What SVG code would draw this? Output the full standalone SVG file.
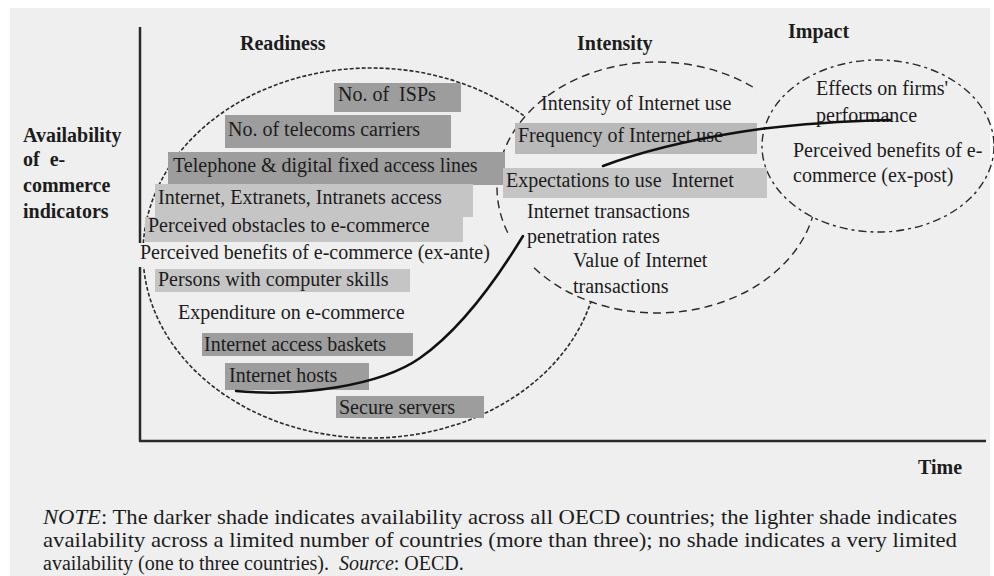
<svg xmlns="http://www.w3.org/2000/svg" width="994" height="576" viewBox="0 0 994 576">
<style>
  text { font-family: "Liberation Serif", "Times New Roman", serif; font-size: 20px; fill: #1c1c1c; }
  .hd { font-weight: bold; }
  .pre { white-space: pre; }
  .dark { fill: #9d9d9d; }
  .light { fill: #c5c5c5; }
  .bg { fill: #efefef; }
  .axis { stroke: #2a2a2a; stroke-width: 2.5; fill: none; }
  .reg { fill: none; stroke: #2a2a2a; }
  .curve { fill: none; stroke: #111; stroke-width: 2.5; stroke-linecap: round; }
  .note { font-size: 21px; }
</style>
<defs>
  <mask id="mR" maskUnits="userSpaceOnUse" x="0" y="0" width="994" height="576">
    <rect x="0" y="0" width="994" height="576" fill="#fff"/>
    <ellipse cx="657" cy="187.5" rx="160" ry="125.5" fill="#000"/>
  </mask>
  <mask id="mI" maskUnits="userSpaceOnUse" x="0" y="0" width="994" height="576">
    <rect x="0" y="0" width="994" height="576" fill="#fff"/>
    <ellipse cx="878" cy="146" rx="116" ry="86" fill="#000"/>
    <rect x="503" y="236" width="30" height="32" fill="#000"/>
    <rect x="757" y="80" width="22" height="26" fill="#000"/>
  </mask>
</defs>

<rect x="0" y="0" width="994" height="576" fill="#fff"/>
<rect x="10" y="8" width="980" height="568" class="bg"/>

<g id="axes">
  <line x1="140" y1="27" x2="140" y2="441" class="axis"/>
  <line x1="139" y1="441" x2="986" y2="441" class="axis"/>
  <text x="23" y="142" class="hd">Availability</text>
  <text x="23" y="166" class="hd pre">of  e-</text>
  <text x="23" y="192" class="hd">commerce</text>
  <text x="23" y="218" class="hd">indicators</text>
  <text x="918" y="474" class="hd">Time</text>
</g>

<g id="readiness">
  <ellipse cx="371" cy="253" rx="228" ry="185" class="reg" stroke-width="1.6" stroke-dasharray="4 2" mask="url(#mR)"/>
  <text x="240" y="50" class="hd">Readiness</text>
</g>
<g id="intensity">
  <ellipse cx="657" cy="187.5" rx="160" ry="125.5" class="reg" stroke-width="1.4" stroke-dasharray="8 5" mask="url(#mI)"/>
  <text x="577" y="50" class="hd">Intensity</text>
</g>
<g id="impact">
  <ellipse cx="878" cy="146" rx="116" ry="86" class="reg" stroke-width="1.4" stroke-dasharray="8 4 3 4"/>
  <text x="788" y="38" class="hd">Impact</text>
</g>

<g id="n-isps"><rect x="334" y="83" width="127" height="29" class="dark"/><text x="338" y="101" class="pre">No. of  ISPs</text></g>
<g id="n-telecoms"><rect x="225" y="115" width="226" height="33" class="dark"/><text x="228" y="136">No. of telecoms carriers</text></g>
<g id="n-telephone"><rect x="168" y="152" width="337" height="33" class="dark"/><text x="173" y="172">Telephone &amp; digital fixed access lines</text></g>
<g id="n-access"><rect x="155" y="184" width="318" height="33" class="light"/><text x="158" y="204">Internet, Extranets, Intranets access</text></g>
<g id="n-obstacles"><rect x="145" y="217" width="318" height="25" class="light"/><text x="148" y="232">Perceived obstacles to e-commerce</text></g>
<g id="n-benefits-ante"><rect x="138" y="243" width="362" height="24" class="bg"/><text x="140" y="259">Perceived benefits of e-commerce (ex-ante)</text></g>
<g id="n-skills"><rect x="155" y="269" width="255" height="23" class="light"/><text x="158" y="286">Persons with computer skills</text></g>
<g id="n-expenditure"><text x="178" y="319">Expenditure on e-commerce</text></g>
<g id="n-baskets"><rect x="202" y="333" width="211" height="23" class="dark"/><text x="204" y="351">Internet access baskets</text></g>
<g id="n-hosts"><rect x="225" y="363" width="144" height="27" class="dark"/><text x="229" y="382">Internet hosts</text></g>
<g id="n-servers"><rect x="336" y="396" width="148" height="22" class="dark"/><text x="339" y="414">Secure servers</text></g>

<g id="n-intensity-use"><text x="541" y="110">Intensity of Internet use</text></g>
<g id="n-frequency"><rect x="515" y="123" width="242" height="31" class="light" style="fill:#b9b9b9"/><text x="518" y="142">Frequency of Internet use</text></g>
<g id="n-expectations"><rect x="503" y="168" width="264" height="30" class="light"/><text x="506" y="187" class="pre">Expectations to use  Internet</text></g>
<g id="n-penetration"><text x="527" y="218">Internet transactions</text><text x="527" y="243">penetration rates</text></g>
<g id="n-value"><text x="573" y="267">Value of Internet</text><text x="573" y="293">transactions</text></g>

<g id="n-effects"><text x="816" y="95">Effects on firms'</text><text x="816" y="122">performance</text></g>
<g id="n-benefits-post"><text x="793" y="157">Perceived benefits of e-</text><text x="793" y="182">commerce (ex-post)</text></g>

<g id="connectors">
  <path class="curve" d="M236,391 C300,397 380,386 420,358 C460,330 495,282 523,236"/>
  <path class="curve" d="M603,166 C640,152 690,140 740,132 S850,121 890,120"/>
</g>

<g id="note">
  <text x="43" y="524" class="note" textLength="914" lengthAdjust="spacingAndGlyphs"><tspan font-style="italic">NOTE</tspan>: The darker shade indicates availability across all OECD countries; the lighter shade indicates</text>
  <text x="43" y="547" class="note" textLength="914" lengthAdjust="spacingAndGlyphs">availability across a limited number of countries (more than three); no shade indicates a very limited</text>
  <text x="43" y="570" class="pre">availability (one to three countries).  <tspan font-style="italic">Source</tspan>: OECD.</text>
</g>
</svg>
